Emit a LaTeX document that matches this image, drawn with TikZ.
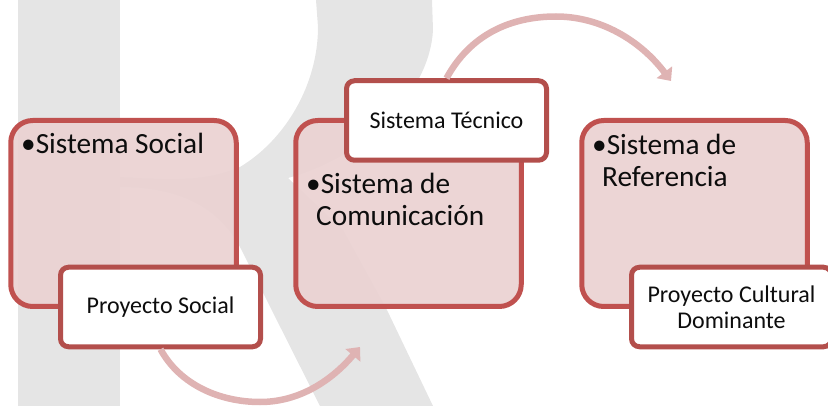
\documentclass[tikz,border=0pt]{standalone}
\usepackage{fontspec}
\setmainfont{Carlito}
\usetikzlibrary{arrows.meta}
\definecolor{wm}{HTML}{E5E5E5}
\definecolor{bigfill}{HTML}{EBD3D3}
\definecolor{bigline}{HTML}{C0514F}
\definecolor{smallline}{HTML}{B34F4C}
\definecolor{flow}{HTML}{DFB3B3}
\tikzset{
  bigbox/.style={draw=bigline,line width=5pt,fill=bigfill,fill opacity=0.96,rounded corners=22pt,minimum width=225.5pt,minimum height=186pt,inner sep=0pt},
  smallbox/.style={draw=smallline,line width=5pt,fill=white,rounded corners=8pt,minimum width=200pt,minimum height=79.5pt,inner sep=0pt,align=center,font=\fontsize{24}{26}\selectfont,text=black!95},
  bigtext/.style={anchor=north west,inner sep=0pt,align=left,font=\fontsize{29.3}{32}\selectfont,text=black!95},
  flowline/.style={draw=flow,line width=6.5pt,-{Triangle[length=11pt,width=19pt]}}
}
\begin{document}
\begin{tikzpicture}[x=1pt,y=-1pt]
\useasboundingbox (0,0) rectangle (828,406);
\clip (0,0) rectangle (828,406);
% watermark
\fill[wm] (18,0) rectangle (120,406);
\fill[wm] (120,177) .. controls (170,180) and (205,182) .. (240,167)
  .. controls (285,140) and (318,85) .. (318,27) -- (316,0) -- (432,0) -- (433,30)
  .. controls (430,90) and (370,155) .. (288,178)
  -- (343,230) -- (387,310) -- (433,406) -- (320,406) -- (243,253)
  .. controls (225,215) and (190,187) .. (120,187) -- cycle;
% boxes
\node[bigbox] (b1) at (123.5,213.5) {};
\node[bigbox] (b2) at (408.5,213.5) {};
\node[bigbox] (b3) at (694.5,213.5) {};
\node[smallbox] (s1) at (160.5,307) {Proyecto Social};
\node[smallbox] (s2) at (446.5,120.5) {Sistema Técnico};
\node[smallbox] (s3) at (731.5,307) {Proyecto Cultural\\Dominante};
\node[bigtext] (t1) at (21,133) {•Sistema Social};
\node[bigtext] (t2) at (306,173) {•Sistema de\\[0pt]\hspace{10pt}Comunicación};
\node[bigtext] (t3) at (592,134) {•Sistema de\\[0pt]\hspace{10pt}Referencia};
% arrows
\coordinate (e1) at (360,347);
\coordinate (e2) at (671,81);
\coordinate (m1) at (260,402);
\coordinate (m2) at (556,16.5);
\draw[flowline] (s1.south) .. controls (180,385) and (220,402) .. (m1) .. controls (300,402) and (332,380) .. (e1);
\draw[flowline] (s2.north) .. controls (470,35) and (510,16.5) .. (m2) .. controls (600,16.5) and (640,40) .. (e2);
\end{tikzpicture}
\end{document}
